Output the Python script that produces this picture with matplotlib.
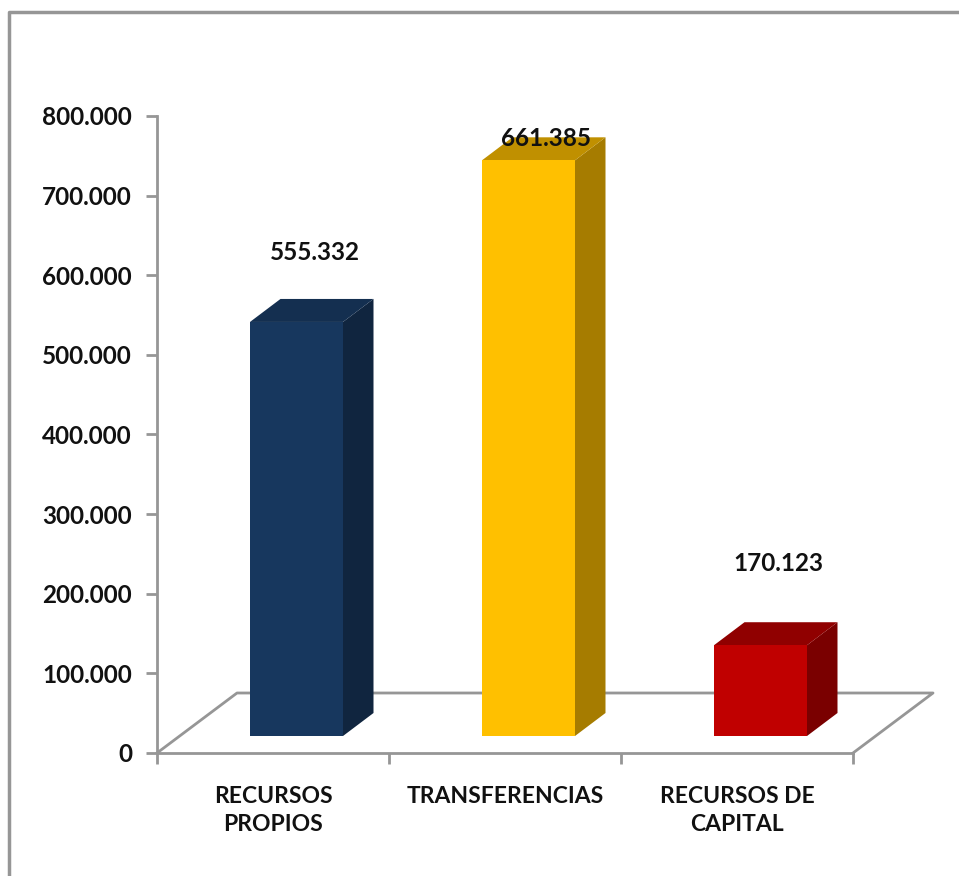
import matplotlib
matplotlib.use("Agg")
import matplotlib.pyplot as plt
from matplotlib.patches import Polygon

categories = ["RECURSOS\nPROPIOS", "TRANSFERENCIAS", "RECURSOS DE\nCAPITAL"]
labels = ["555.332", "661.385", "170.123"]
# bar heights as drawn against the axis, they do not follow the printed labels
heights = [520000, 723000, 114000]
label_y = [628000, 772000, 238000]
ticks = [0, 100000, 200000, 300000, 400000, 500000, 600000, 700000, 800000]
tick_labels = ["0", "100.000", "200.000", "300.000", "400.000", "500.000", "600.000", "700.000", "800.000"]

front = ["#17375E", "#FFC000", "#C00000"]
top = ["#142F50", "#C09000", "#900000"]
side = ["#10253F", "#A67C00", "#7A0000"]

GREY = "#969696"
W, H = 959, 876

plt.rcParams["font.family"] = ["Lato", "DejaVu Sans"]

fig = plt.figure(figsize=(W / 100, H / 100), dpi=100)

# frame of the pasted picture, only left and top are visible
fig.add_artist(plt.Line2D([9 / W, 9 / W, 1], [0, 1 - 12 / H, 1 - 12 / H], color=GREY, lw=2.5))

ax = fig.add_axes([157 / W, 1 - 753 / H, (853 - 157) / W, (753 - 116) / H])
ax.set_xlim(0, 3)
ax.set_ylim(0, 800000)
ax.patch.set_visible(False)

for s in ["top", "right", "bottom", "left"]:
    ax.spines[s].set_color(GREY)
    ax.spines[s].set_linewidth(2)
ax.spines["top"].set_visible(False)
ax.spines["right"].set_visible(False)

ax.set_yticks(ticks)
ax.set_yticklabels(tick_labels, fontsize=17.5, fontweight="bold", color="#111111")
ax.set_xticks([0, 1, 2, 3])
ax.set_xticklabels([])
ax.tick_params(axis="both", color=GREY, width=2, length=8, pad=10)

# sizes of the fake 3d, converted from pixels
px = 3 / (853 - 157)
py = 800000 / (753 - 116)
floor_dx, floor_dy = 80 * px, 60 * py
bar_dx, bar_dy = 30.5 * px, 23 * py
base_x, base_y = 93 * px, 17 * py
bar_w = 93 * px

ax.plot([0, floor_dx, 3 + floor_dx, 3], [0, floor_dy, floor_dy, 0], color=GREY, lw=2, clip_on=False, zorder=1)

for i, h in enumerate(heights):
    x0 = i + base_x
    x1 = x0 + bar_w
    y0 = base_y
    y1 = base_y + h
    ax.add_patch(Polygon([(x1, y0), (x1 + bar_dx, y0 + bar_dy), (x1 + bar_dx, y1 + bar_dy), (x1, y1)],
                         fc=side[i], ec="none", clip_on=False, zorder=3))
    ax.add_patch(Polygon([(x0, y1), (x0 + bar_dx, y1 + bar_dy), (x1 + bar_dx, y1 + bar_dy), (x1, y1)],
                         fc=top[i], ec="none", clip_on=False, zorder=3))
    ax.add_patch(Polygon([(x0, y0), (x1, y0), (x1, y1), (x0, y1)],
                         fc=front[i], ec="none", clip_on=False, zorder=4))
    ax.text(x0 + bar_w / 2 + 18 * px, label_y[i], labels[i], ha="center", va="center",
            fontsize=17.5, fontweight="bold", color="#111111", zorder=5)

    ax.text(i + 0.5, -41000, categories[i], ha="center", va="top", fontsize=16.5,
            fontweight="bold", color="#111111", linespacing=1.42, clip_on=False)

fig.savefig("out.png", dpi=100)
plt.close(fig)
